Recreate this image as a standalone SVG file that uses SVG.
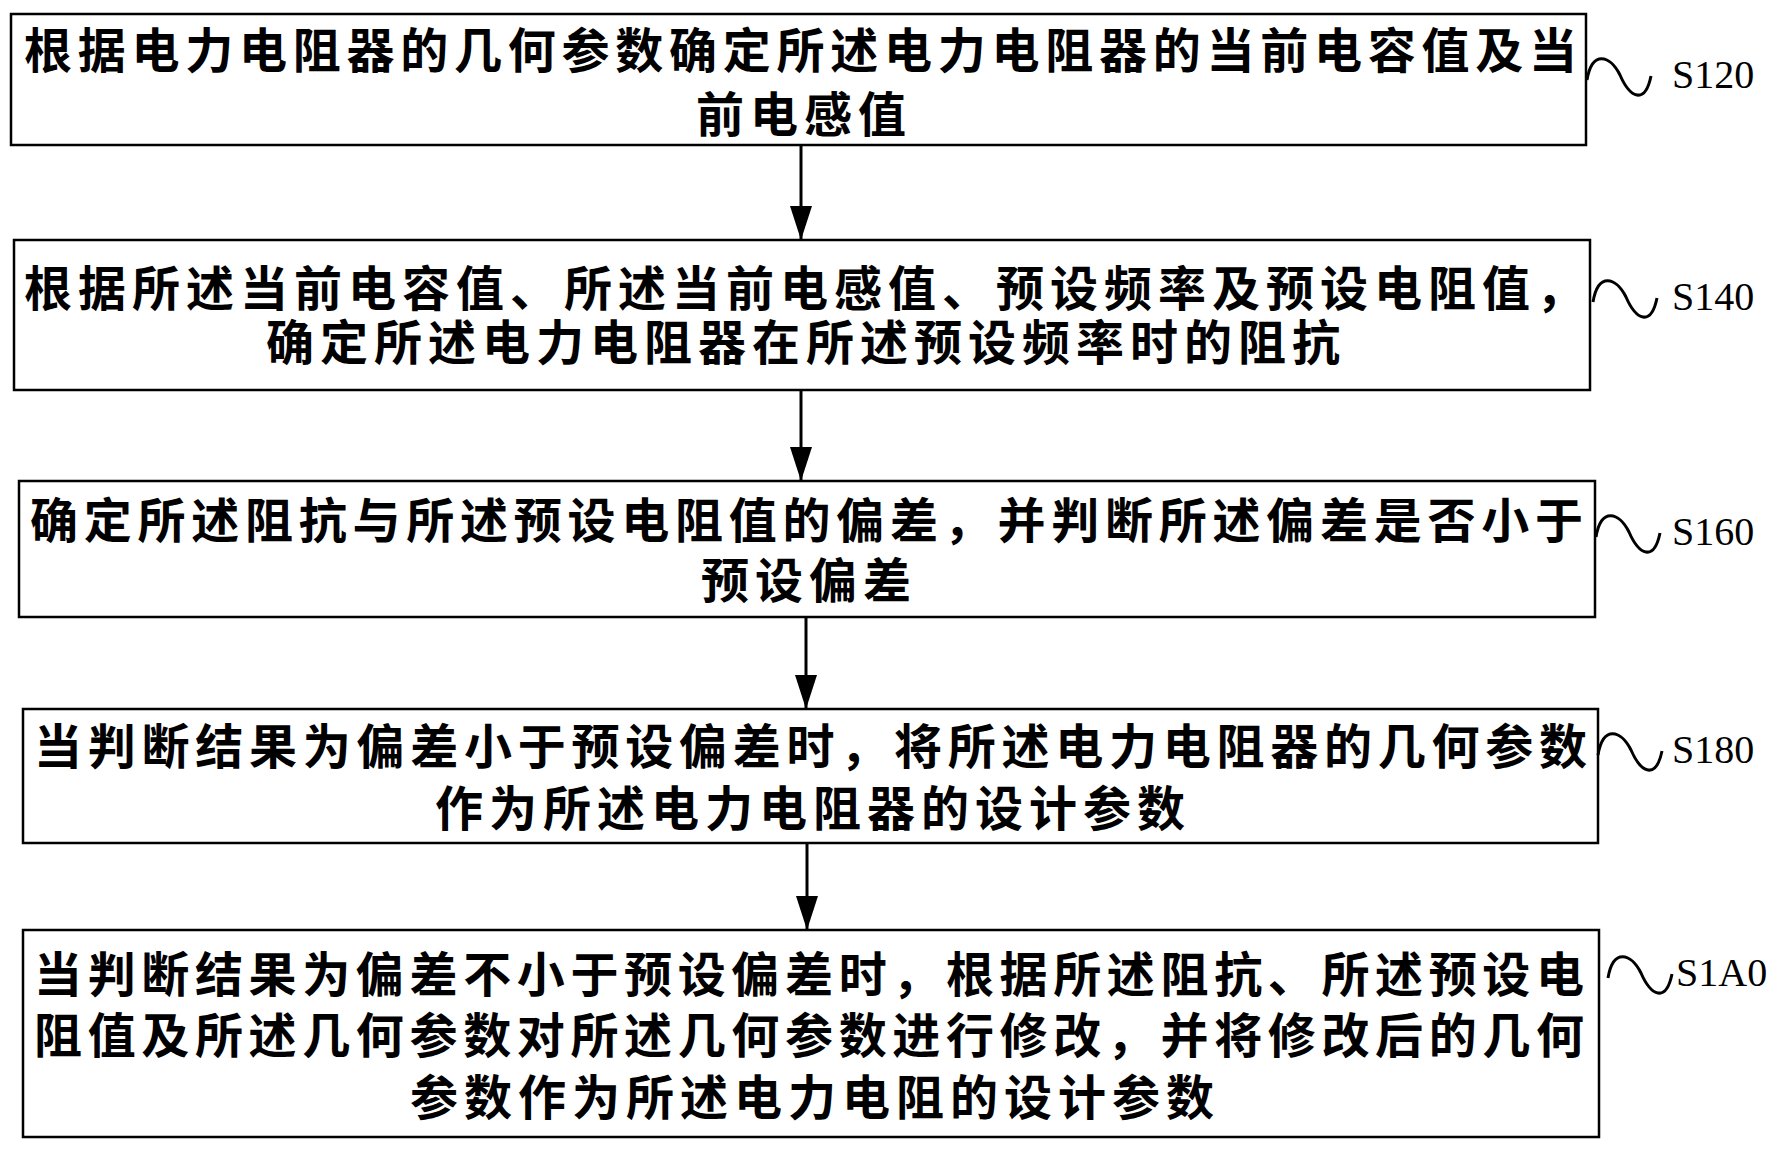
<svg xmlns="http://www.w3.org/2000/svg" width="1774" height="1152" viewBox="0 0 1774 1152">
<defs>
<marker id="ah" markerWidth="34" markerHeight="22" refX="34" refY="11" orient="auto" markerUnits="userSpaceOnUse" viewBox="0 0 34 22"><path d="M0,0 L34,11 L0,22 Z" fill="#000"/></marker>
<style>
rect{fill:#fff;stroke:#000;stroke-width:2.5}
.t{font-family:"Noto Sans CJK SC","Noto Sans CJK JP",sans-serif;font-size:48px;font-weight:bold;dominant-baseline:central}
.c{text-anchor:middle;letter-spacing:6px}
.l{font-family:"Liberation Serif",serif;font-size:40px}
.sq{fill:none;stroke:#000;stroke-width:3}
.cn{stroke:#000;stroke-width:3;fill:none}
</style>
</defs>
<rect x="0" y="0" width="1774" height="1152" style="fill:#fff;stroke:none"/>
<g id="connectors">
<line class="cn" x1="801" y1="145" x2="801" y2="240" marker-end="url(#ah)"/>
<line class="cn" x1="801" y1="390" x2="801" y2="481" marker-end="url(#ah)"/>
<line class="cn" x1="806" y1="617" x2="806" y2="709" marker-end="url(#ah)"/>
<line class="cn" x1="807" y1="843" x2="807" y2="930" marker-end="url(#ah)"/>
</g>
<g id="S120">
<rect x="11" y="14" width="1575" height="131"/>
<text class="t" x="24" y="47" textLength="1553" lengthAdjust="spacing">根据电力电阻器的几何参数确定所述电力电阻器的当前电容值及当</text>
<text class="t c" x="804" y="111">前电感值</text>
<path class="sq" d="M1587,80 C1592,50 1610,55 1620,75 C1630,98 1645,105 1651,76"/>
<text class="l" x="1672" y="88">S120</text>
</g>
<g id="S140">
<rect x="14" y="240" width="1576" height="150"/>
<text class="t" x="24" y="285" textLength="1560" lengthAdjust="spacing">根据所述当前电容值、所述当前电感值、预设频率及预设电阻值，</text>
<text class="t c" x="806" y="339">确定所述电力电阻器在所述预设频率时的阻抗</text>
<path class="sq" d="M1593,302 C1598,272 1616,277 1626,297 C1636,320 1651,327 1657,298"/>
<text class="l" x="1672" y="310">S140</text>
</g>
<g id="S160">
<rect x="19" y="481" width="1576" height="136"/>
<text class="t" x="30" y="517" textLength="1553" lengthAdjust="spacing">确定所述阻抗与所述预设电阻值的偏差，并判断所述偏差是否小于</text>
<text class="t c" x="809" y="577">预设偏差</text>
<path class="sq" d="M1596,537 C1601,507 1619,512 1629,532 C1639,555 1654,562 1660,533"/>
<text class="l" x="1672" y="545">S160</text>
</g>
<g id="S180">
<rect x="23" y="709" width="1575" height="134"/>
<text class="t" x="34" y="743" textLength="1553" lengthAdjust="spacing">当判断结果为偏差小于预设偏差时，将所述电力电阻器的几何参数</text>
<text class="t c" x="813" y="805">作为所述电力电阻器的设计参数</text>
<path class="sq" d="M1598,755 C1603,725 1621,730 1631,750 C1641,773 1656,780 1662,751"/>
<text class="l" x="1672" y="763">S180</text>
</g>
<g id="S1A0">
<rect x="23" y="930" width="1576" height="207"/>
<text class="t" x="34" y="971" textLength="1550" lengthAdjust="spacing">当判断结果为偏差不小于预设偏差时，根据所述阻抗、所述预设电</text>
<text class="t" x="34" y="1032" textLength="1550" lengthAdjust="spacing">阻值及所述几何参数对所述几何参数进行修改，并将修改后的几何</text>
<text class="t c" x="815" y="1094">参数作为所述电力电阻的设计参数</text>
<path class="sq" d="M1608,978 C1613,948 1631,953 1641,973 C1651,996 1666,1003 1672,974"/>
<text class="l" x="1676" y="986">S1A0</text>
</g>
</svg>
